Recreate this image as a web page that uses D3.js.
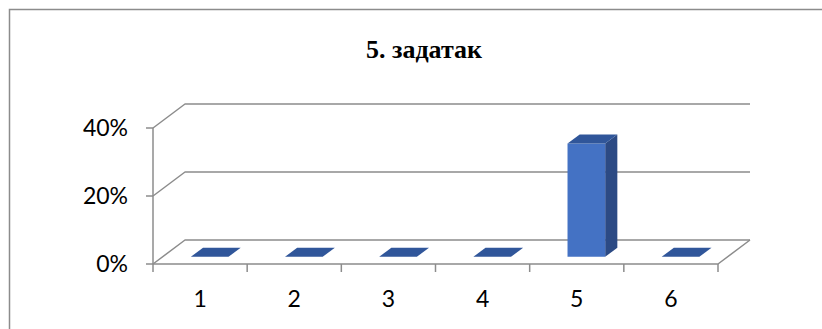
<!DOCTYPE html>
<html>
<head>
<meta charset="utf-8">
<script src="https://cdn.jsdelivr.net/npm/d3@7/dist/d3.min.js"></script>
<style>
  html, body { margin: 0; padding: 0; background: #fff; overflow: hidden; }
  svg { display: block; }
</style>
</head>
<body>
<svg id="chart" width="822" height="329"></svg>
<script>
// Chart content
const title = "5. задатак";
const categories = ["1", "2", "3", "4", "5", "6"];
const values = [0, 0, 0, 0, 0.333, 0];
const yTicks = [0, 0.2, 0.4];
const yTickLabels = ["0%", "20%", "40%"];

const svg = d3.select("#chart");
const W = 822, H = 329;

// Outer chart frame (open to the right and bottom)
svg.append("path")
  .attr("d", `M9.5,${H + 5}V9.5H${W + 5}`)
  .attr("fill", "none")
  .attr("stroke", "#8c8c8c").attr("stroke-width", 1.5);

// Title
svg.append("text")
  .attr("x", 424).attr("y", 58)
  .attr("text-anchor", "middle")
  .attr("font-family", "'Liberation Serif', 'Times New Roman', serif")
  .attr("font-weight", "bold")
  .attr("font-size", 26)
  .attr("fill", "#000")
  .text(title);

// Front-plane scales and oblique depth vector of the 3D box
const x = d3.scaleBand().domain(categories).range([153, 718]).paddingInner(0).paddingOuter(0);
const y = d3.scaleLinear().domain([0, 0.4]).range([264, 128]);
const depth = { dx: 32, dy: -24 };
// point on plane at depth fraction d (0 = front, 1 = back)
const pt = (px, v, d) => [px + d * depth.dx, y(v) + d * depth.dy];

const gridColor = "#8c8c8c";
const x0 = x.range()[0], x1 = x.range()[1];

const walls = svg.append("g")
  .attr("fill", "none")
  .attr("stroke", gridColor)
  .attr("stroke-width", 1.5)
  .attr("stroke-linejoin", "round");

// Gridlines: side-wall diagonal plus back-wall horizontal
yTicks.forEach(t => {
  const a = pt(x0, t, 0), b = pt(x0, t, 1), c = pt(x1, t, 1);
  walls.append("path").attr("d", d3.line()([a, b, c]));
});

// Floor: front edge and right edge
walls.append("path").attr("d", d3.line()([pt(x0, 0, 0), pt(x1, 0, 0), pt(x1, 0, 1)]));

// Vertical value axis on the front plane
walls.append("path").attr("d", d3.line()([pt(x0, yTicks[yTicks.length - 1], 0), pt(x0, 0, 0)]));

const labelFont = "Lato, 'Open Sans', sans-serif";

// Value axis ticks and labels
yTicks.forEach((t, i) => {
  walls.append("line")
    .attr("x1", x0 - 7).attr("x2", x0)
    .attr("y1", y(t)).attr("y2", y(t));
  svg.append("text")
    .attr("x", 128).attr("y", y(t))
    .attr("dy", "0.36em")
    .attr("text-anchor", "end")
    .attr("font-family", labelFont)
    .attr("font-size", 23)
    .attr("fill", "#000")
    .text(yTickLabels[i]);
});

// Category axis ticks at band boundaries
const bounds = categories.map(c => x(c)).concat([x1]);
bounds.forEach(bx => {
  walls.append("line")
    .attr("x1", bx).attr("x2", bx)
    .attr("y1", y(0)).attr("y2", y(0) + 8);
});

// Category labels
categories.forEach(c => {
  svg.append("text")
    .attr("x", x(c) + x.bandwidth() / 2).attr("y", 307)
    .attr("text-anchor", "middle")
    .attr("font-family", labelFont)
    .attr("font-size", 23)
    .attr("fill", "#000")
    .text(c);
});

// 3D bars
const dFront = 0.3, dBack = 0.68;
const barW = x.bandwidth() / 2.5;
const colFront = "#4472c4", colTop = "#30569a", colSide = "#2c4a84";
const bars = svg.append("g");

categories.forEach((c, i) => {
  const v = values[i];
  const l = x(c) + x.bandwidth() / 2 - barW / 2;
  const r = l + barW;
  const top = [pt(l, v, dFront), pt(r, v, dFront), pt(r, v, dBack), pt(l, v, dBack)];
  if (v > 0) {
    const front = [pt(l, 0, dFront), pt(r, 0, dFront), pt(r, v, dFront), pt(l, v, dFront)];
    const side = [pt(r, 0, dFront), pt(r, 0, dBack), pt(r, v, dBack), pt(r, v, dFront)];
    bars.append("path").attr("d", d3.line()(side) + "Z").attr("fill", colSide);
    bars.append("path").attr("d", d3.line()(front) + "Z").attr("fill", colFront);
  }
  bars.append("path").attr("d", d3.line()(top) + "Z").attr("fill", colTop);
});
</script>
</body>
</html>
